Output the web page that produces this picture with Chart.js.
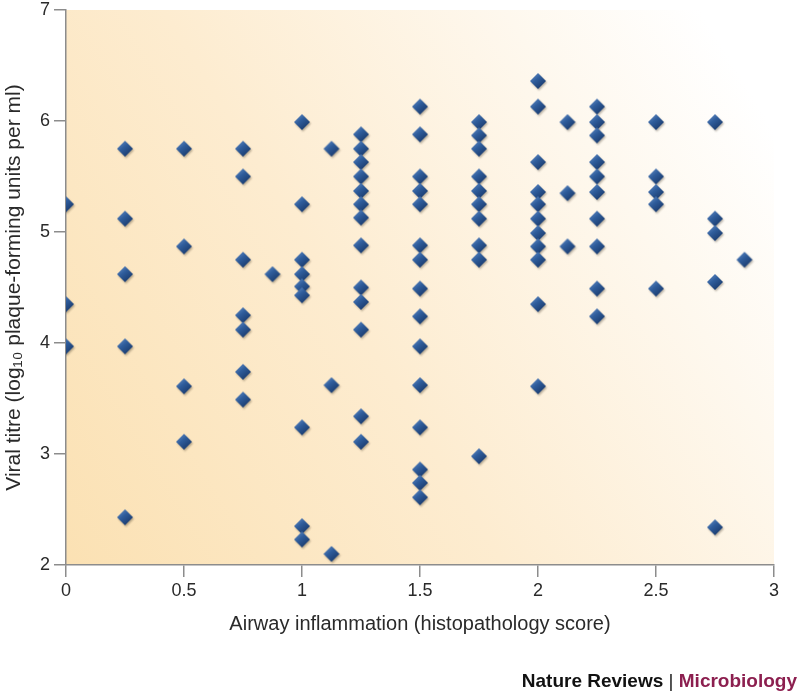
<!DOCTYPE html>
<html>
<head>
<meta charset="utf-8">
<script src="https://cdn.jsdelivr.net/npm/chart.js@4.4.1/dist/chart.umd.min.js"></script>
<style>
  html, body { margin: 0; padding: 0; background: #fff; }
  #wrap { width: 800px; height: 696px; position: relative; }
</style>
</head>
<body>
<div id="wrap"><canvas id="titreChart" width="800" height="696"></canvas></div>
<script>
// histopathology score of each animal and its viral titre (log10 PFU per ml)
const score = [
  0, 0, 0,
  0.25, 0.25, 0.25, 0.25, 0.25,
  0.5, 0.5, 0.5, 0.5,
  0.75, 0.75, 0.75, 0.75, 0.75, 0.75, 0.75,
  0.875,
  1, 1, 1, 1, 1, 1, 1, 1, 1,
  1.125, 1.125, 1.125,
  1.25, 1.25, 1.25, 1.25, 1.25, 1.25, 1.25, 1.25, 1.25, 1.25, 1.25, 1.25, 1.25,
  1.5, 1.5, 1.5, 1.5, 1.5, 1.5, 1.5, 1.5, 1.5, 1.5, 1.5, 1.5, 1.5, 1.5, 1.5,
  1.75, 1.75, 1.75, 1.75, 1.75, 1.75, 1.75, 1.75, 1.75, 1.75,
  2, 2, 2, 2, 2, 2, 2, 2, 2, 2, 2,
  2.125, 2.125, 2.125,
  2.25, 2.25, 2.25, 2.25, 2.25, 2.25, 2.25, 2.25, 2.25, 2.25,
  2.5, 2.5, 2.5, 2.5, 2.5,
  2.75, 2.75, 2.75, 2.75, 2.75,
  2.875
];
const titre = [
  5.25, 4.35, 3.97,
  5.75, 5.12, 4.62, 3.97, 2.43,
  5.75, 4.87, 3.61, 3.11,
  5.75, 5.50, 4.75, 4.25, 4.12, 3.74, 3.49,
  4.62,
  5.99, 5.25, 4.75, 4.62, 4.51, 4.43, 3.24, 2.35, 2.23,
  5.75, 3.62, 2.10,
  5.88, 5.75, 5.63, 5.50, 5.37, 5.25, 5.13, 4.88, 4.50, 4.37, 4.12, 3.34, 3.11,
  6.13, 5.88, 5.50, 5.37, 5.25, 4.88, 4.75, 4.49, 4.24, 3.97, 3.62, 3.24, 2.86, 2.74, 2.61,
  5.99, 5.87, 5.75, 5.50, 5.37, 5.25, 5.12, 4.88, 4.75, 2.98,
  6.36, 6.13, 5.63, 5.36, 5.25, 5.12, 4.99, 4.87, 4.75, 4.35, 3.61,
  5.99, 5.35, 4.87,
  6.13, 5.99, 5.87, 5.63, 5.50, 5.36, 5.12, 4.87, 4.49, 4.24,
  5.99, 5.50, 5.36, 5.25, 4.49,
  5.99, 5.12, 4.99, 4.55, 2.34,
  4.75
];
const xTitle = 'Airway inflammation (histopathology score)';
const yTitle = 'Viral titre (log\u2081\u2080 plaque-forming units per ml)';

const FONT = '"Liberation Sans Narrow", "Liberation Sans", sans-serif';
const axisGrey = '#8c8c8c';

// shaded blue diamond used as point marker
function makeDiamond() {
  const c = document.createElement('canvas');
  c.width = 22; c.height = 22;
  const g = c.getContext('2d');
  const cx = 11, cy = 11, r = 8;
  g.shadowColor = 'rgba(60,50,30,0.35)';
  g.shadowBlur = 2;
  g.shadowOffsetX = 1;
  g.shadowOffsetY = 1.5;
  const grad = g.createLinearGradient(cx - r, cy - r, cx + r * 0.6, cy + r);
  grad.addColorStop(0, '#6d95cc');
  grad.addColorStop(0.45, '#2f5d9c');
  grad.addColorStop(1, '#173565');
  g.fillStyle = grad;
  g.beginPath();
  g.moveTo(cx, cy - r);
  g.lineTo(cx + r, cy);
  g.lineTo(cx, cy + r);
  g.lineTo(cx - r, cy);
  g.closePath();
  g.fill();
  return c;
}

const bgPlugin = {
  id: 'bgPlugin',
  beforeDraw(chart) {
    const {ctx, chartArea: a} = chart;
    ctx.save();
    const lin = ctx.createLinearGradient(a.left, a.bottom, a.right, a.top + 120);
    lin.addColorStop(0, '#fbe1b3');
    lin.addColorStop(0.45, '#fdecd0');
    lin.addColorStop(0.8, '#fef8ee');
    lin.addColorStop(1, '#ffffff');
    ctx.fillStyle = lin;
    ctx.fillRect(a.left, a.top, a.right - a.left, a.bottom - a.top);
    ctx.restore();
  },
  afterDraw(chart) {
    const ctx = chart.ctx;
    ctx.save();
    ctx.font = 'bold 19px ' + FONT;
    ctx.textBaseline = 'alphabetic';
    ctx.textAlign = 'right';
    const right = 797, base = 687;
    const micro = 'Microbiology';
    const sep = ' | ';
    ctx.fillStyle = '#8c1f4f';
    ctx.fillText(micro, right, base);
    let x = right - ctx.measureText(micro).width;
    ctx.font = '19px ' + FONT;
    ctx.fillStyle = '#222';
    ctx.fillText(sep, x, base);
    x -= ctx.measureText(sep).width;
    ctx.font = 'bold 19px ' + FONT;
    ctx.fillStyle = '#111';
    ctx.fillText('Nature Reviews', x, base);
    ctx.restore();
  }
};

const points = score.map((s, i) => ({x: s, y: titre[i]}));

const ctx = document.getElementById('titreChart').getContext('2d');
const titreChart = new Chart(ctx, {
  type: 'scatter',
  data: {
    datasets: [{
      data: points,
      pointStyle: makeDiamond(),
      pointRadius: 8,
      pointHoverRadius: 8
    }]
  },
  options: {
    responsive: false,
    animation: false,
    layout: { padding: { top: 10, right: 26, left: 0, bottom: 56 } },
    plugins: { legend: { display: false }, tooltip: { enabled: false } },
    scales: {
      x: {
        type: 'linear',
        min: 0, max: 3,
        border: { color: axisGrey, width: 1.5 },
        grid: { drawOnChartArea: false, drawTicks: true, tickLength: 12, color: axisGrey, lineWidth: 1.5 },
        ticks: {
          stepSize: 0.5, color: '#2a2a2a', padding: 3, font: { family: FONT, size: 18 },
          callback: v => String(v)
        },
        title: { display: true, text: xTitle, color: '#2a2a2a', font: { family: FONT, size: 20 }, padding: { top: 8 } },
        afterFit(scale) { scale.height = 75; scale.paddingLeft = 0; scale.paddingRight = 0; }
      },
      y: {
        type: 'linear',
        min: 2, max: 7,
        border: { color: axisGrey, width: 1.5 },
        grid: { drawOnChartArea: false, drawTicks: true, tickLength: 12, color: axisGrey, lineWidth: 1.5 },
        ticks: { stepSize: 1, color: '#2a2a2a', padding: 4, font: { family: FONT, size: 18 } },
        title: { display: true, text: yTitle, color: '#2a2a2a', font: { family: FONT, size: 21 }, padding: { top: 2, bottom: 0 } },
        afterFit(scale) { scale.width = 66; scale.paddingTop = 0; scale.paddingBottom = 0; }
      }
    }
  },
  plugins: [bgPlugin]
});
</script>
</body>
</html>
